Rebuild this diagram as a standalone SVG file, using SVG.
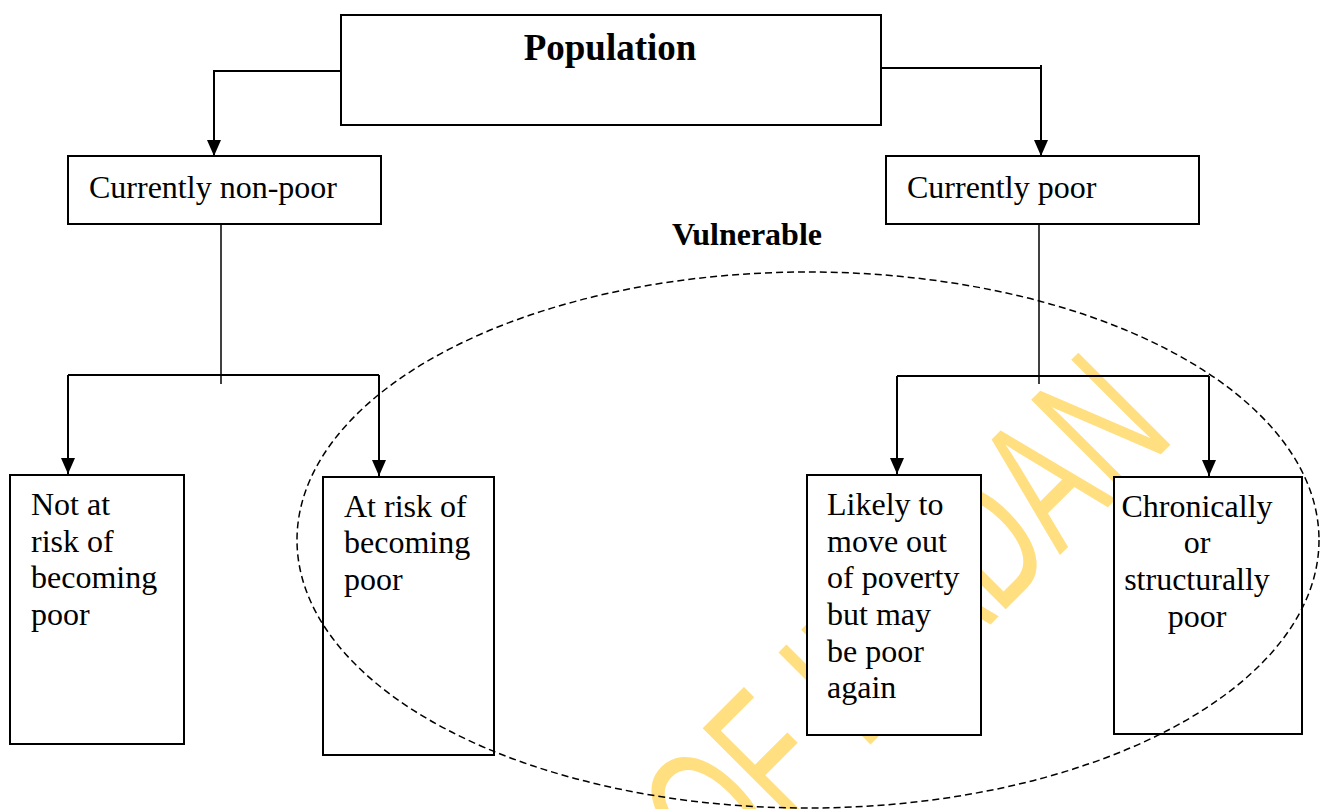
<svg xmlns="http://www.w3.org/2000/svg" width="1320" height="809" viewBox="0 0 1320 809">
  <style>
    .box { fill: #ffffff; stroke: #000000; stroke-width: 2; }
    .t { font-family: "Liberation Serif", "Times New Roman", serif; font-size: 32px; fill: #000000; }
    .tb { font-family: "Liberation Serif", "Times New Roman", serif; font-weight: bold; fill: #000000; }
    .c { fill: none; stroke: #000000; stroke-width: 2; }
    .ct { fill: none; stroke: #000000; stroke-width: 1.5; }
    .wm { font-family: "Liberation Sans", Arial, sans-serif; font-size: 189px; fill: #FFDF80; }
  </style>
  <defs>
    <marker id="arr" markerUnits="userSpaceOnUse" markerWidth="16" markerHeight="14" viewBox="0 0 16 14" refX="16" refY="7" orient="auto">
      <path d="M0,0 L16,7 L0,14 Z" fill="#000000"/>
    </marker>
  </defs>
  <rect width="1320" height="809" fill="#ffffff"/>

  <!-- watermark -->
  <g id="watermark">
    <text class="wm" transform="translate(722,893) rotate(-45) scale(0.632,1)" x="0" y="0">OF IBADAN</text>
  </g>

  <g id="connectors">
    <path class="c" d="M341,71 H214 V156" marker-end="url(#arr)"/>
    <path class="c" d="M881,68 H1041"/>
    <path class="c" d="M1041,65 V156" marker-end="url(#arr)"/>
    <path class="ct" d="M221,224 V384"/>
    <path class="c" d="M68,375 H379"/>
    <path class="c" d="M68,375 V474" marker-end="url(#arr)"/>
    <path class="c" d="M379,375 V476" marker-end="url(#arr)"/>
    <path class="ct" d="M1039,224 V384"/>
    <path class="c" d="M897,376 H1209"/>
    <path class="c" d="M897,376 V474" marker-end="url(#arr)"/>
    <path class="c" d="M1209,376 V476" marker-end="url(#arr)"/>
  </g>

  <g id="population">
    <rect class="box" x="341" y="15" width="540" height="110"/>
    <text class="tb" x="610" y="60" font-size="37" text-anchor="middle">Population</text>
  </g>

  <g id="non-poor">
    <rect class="box" x="68" y="156" width="313" height="68"/>
    <text class="t" x="89" y="198">Currently non-poor</text>
  </g>

  <g id="poor">
    <rect class="box" x="886" y="156" width="313" height="68"/>
    <text class="t" x="907" y="198">Currently poor</text>
  </g>

  <g id="not-at-risk">
    <rect class="box" x="10" y="475" width="174" height="269"/>
    <text class="t" x="31" y="515">Not at</text>
    <text class="t" x="31" y="552">risk of</text>
    <text class="t" x="31" y="588">becoming</text>
    <text class="t" x="31" y="625">poor</text>
  </g>

  <g id="at-risk">
    <rect class="box" x="323" y="477" width="171" height="278"/>
    <text class="t" x="344" y="517">At risk of</text>
    <text class="t" x="344" y="553">becoming</text>
    <text class="t" x="344" y="590">poor</text>
  </g>

  <g id="likely">
    <rect class="box" x="807" y="475" width="174" height="260"/>
    <text class="t" x="827" y="515">Likely to</text>
    <text class="t" x="827" y="552">move out</text>
    <text class="t" x="827" y="588">of poverty</text>
    <text class="t" x="827" y="625">but may</text>
    <text class="t" x="827" y="662">be poor</text>
    <text class="t" x="827" y="698">again</text>
  </g>

  <g id="chronic">
    <rect class="box" x="1114" y="477" width="188" height="257"/>
    <text class="t" x="1197" y="517" text-anchor="middle">Chronically</text>
    <text class="t" x="1197" y="553" text-anchor="middle">or</text>
    <text class="t" x="1197" y="590" text-anchor="middle">structurally</text>
    <text class="t" x="1197" y="627" text-anchor="middle">poor</text>
  </g>

  <g id="vulnerable">
    <ellipse cx="808" cy="540" rx="511" ry="268" fill="none" stroke="#000000" stroke-width="1.5" stroke-dasharray="7,4"/>
    <text class="tb" x="747" y="245" font-size="32" text-anchor="middle">Vulnerable</text>
  </g>
</svg>
